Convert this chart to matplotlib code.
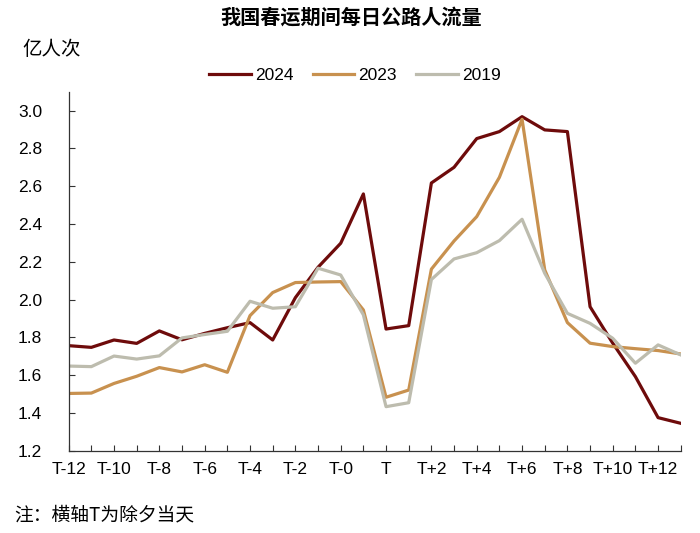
import matplotlib
matplotlib.use("Agg")
import matplotlib.pyplot as plt
from matplotlib.ticker import FixedLocator, FixedFormatter, MultipleLocator

plt.rcParams['font.family'] = ['Liberation Sans', 'Noto Sans CJK SC', 'DejaVu Sans']

# 横轴标签（每两天显示一个）
x_labels = ['T-12', 'T-10', 'T-8', 'T-6', 'T-4', 'T-2', 'T-0',
            'T', 'T+2', 'T+4', 'T+6', 'T+8', 'T+10', 'T+12']

# 每日公路人流量（亿人次）
flow_2024 = [1.756, 1.747, 1.786, 1.768, 1.834, 1.787, 1.821, 1.851, 1.878, 1.786,
             2.010, 2.171, 2.298, 2.559, 1.844, 1.862, 2.617, 2.700, 2.852, 2.889,
             2.968, 2.898, 2.889, 1.962, 1.769, 1.592, 1.375, 1.345]
flow_2023 = [1.503, 1.505, 1.556, 1.594, 1.640, 1.617, 1.655, 1.615, 1.915, 2.037,
             2.090, 2.093, 2.095, 1.945, 1.483, 1.521, 2.161, 2.310, 2.439, 2.647,
             2.954, 2.157, 1.878, 1.769, 1.751, 1.740, 1.730, 1.712]
flow_2019 = [1.648, 1.645, 1.701, 1.685, 1.702, 1.797, 1.815, 1.832, 1.991, 1.954,
             1.962, 2.166, 2.130, 1.919, 1.433, 1.454, 2.106, 2.215, 2.248, 2.312,
             2.425, 2.139, 1.927, 1.874, 1.795, 1.663, 1.760, 1.707]

c2024 = '#6E0B0B'
c2023 = '#C8914F'
c2019 = '#BDBCAE'

days = list(range(len(flow_2024)))

fig = plt.figure(figsize=(7, 5.33), dpi=100)
ax = fig.add_axes([0.0981, 0.1544, 0.8744, 0.6735])

ax.plot(days, flow_2024, color=c2024, lw=2.3, label='2024')
ax.plot(days, flow_2023, color=c2023, lw=2.3, label='2023')
ax.plot(days, flow_2019, color=c2019, lw=2.3, label='2019')

ax.set_xlim(0, len(days) - 1)
ax.set_ylim(1.2, 3.1)
ax.yaxis.set_major_locator(FixedLocator([1.2 + 0.2 * i for i in range(10)]))
ax.yaxis.set_major_formatter(plt.FuncFormatter(lambda v, p: f'{v:.1f}'))

ax.xaxis.set_major_locator(FixedLocator(days[::2]))
ax.xaxis.set_major_formatter(FixedFormatter(x_labels))
ax.xaxis.set_minor_locator(MultipleLocator(1))

for s in ['top', 'right']:
    ax.spines[s].set_visible(False)
for s in ['left', 'bottom']:
    ax.spines[s].set_color('#333333')
    ax.spines[s].set_linewidth(0.9)

ax.tick_params(axis='x', which='both', direction='in', length=4, width=0.8,
               color='#333333', labelsize=12.5, pad=8)
ax.tick_params(axis='y', direction='in', length=4, width=0.8,
               color='#333333', labelsize=12.5, pad=19)

fig.legend(loc='center', bbox_to_anchor=(0.507, 0.859), ncol=3, frameon=False,
           fontsize=12.5, handlelength=2.4, handletextpad=0.25, columnspacing=1.1)

fig.text(0.502, 1 - 18 / 533, '我国春运期间每日公路人流量', ha='center', va='center',
         fontsize=14.5, fontweight='bold')
fig.text(22 / 700, 1 - 50 / 533, '亿人次', ha='left', va='center', fontsize=14)
fig.text(14 / 700, 1 - 515 / 533, '注：横轴T为除夕当天', ha='left', va='center',
         fontsize=13.5, family=['Noto Sans CJK SC', 'DejaVu Sans'])

fig.savefig('out.png', dpi=100)
